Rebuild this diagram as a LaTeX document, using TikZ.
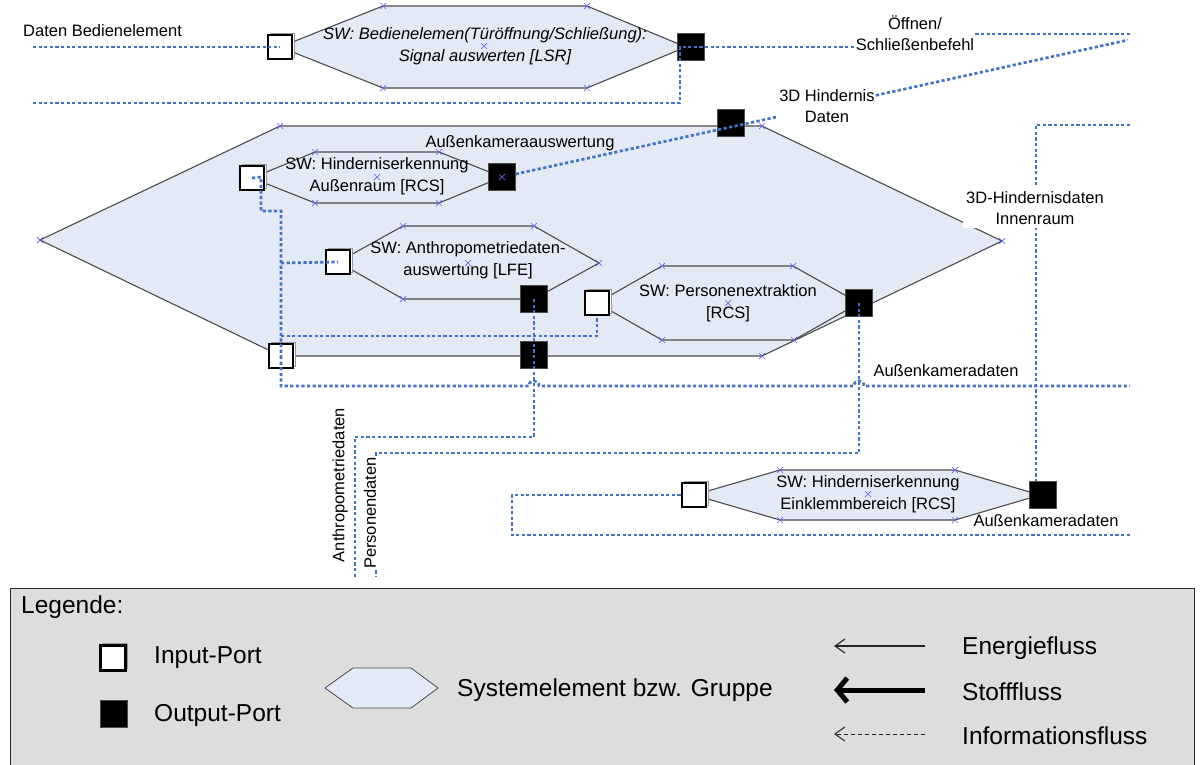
\documentclass[tikz,border=0pt]{standalone}
\usepackage{fontspec}
\setmainfont{Liberation Sans}
\usetikzlibrary{arrows.meta,shadows}
\definecolor{infoblue}{RGB}{68,114,196}
\definecolor{hexfill}{RGB}{227,234,246}
\definecolor{hexline}{RGB}{75,75,75}
\definecolor{legendgray}{RGB}{221,221,221}
\definecolor{vtxblue}{RGB}{100,100,240}

\begin{document}
\begin{tikzpicture}[x=1pt,y=-1pt,
  txt/.style={font=\fontsize{16.5}{21.5}\selectfont, align=center, inner sep=1pt},
  legtxt/.style={font=\fontsize{24.5}{28}\selectfont, inner sep=1pt},
  hexa/.style={draw=hexline, fill=hexfill, line width=1.1pt, line join=miter},
  info/.style={draw=infoblue, line width=2.7pt, dash pattern=on 3.2pt off 2.4pt},
  vtx/.style={draw=vtxblue, line width=0.7pt},
  inport/.style={draw=black, fill=white, line width=2.8pt, minimum size=24pt, inner sep=0pt,
    copy shadow={shadow xshift=2pt, shadow yshift=2pt, draw=gray!80, fill=white, line width=1pt}},
  outport/.style={draw=gray!60!black, fill=black, line width=0.5pt, minimum size=27pt, inner sep=0pt},
  energy/.style={draw=black!85, line width=1.1pt, -{Straight Barb[length=10pt,width=14pt]}},
  stoff/.style={draw=black, line width=5pt, -{Straight Barb[length=10pt,width=24pt]}},
  infoleg/.style={draw=black!85, line width=1pt, dash pattern=on 4pt off 3pt, -{Straight Barb[length=10pt,width=14pt]}}
]
\useasboundingbox (0,0) rectangle (1204,764);

% group hexagon and system elements
\draw[hexa] (40,240) -- (280,126) -- (762,126) -- (1002,241) -- (762,356) -- (281,356) -- cycle;
\draw[hexa] (280,47) -- (383,6) -- (587,6) -- (686,47) -- (587,88) -- (383,88) -- cycle;
\draw[hexa] (252,178) -- (315,152) -- (439,152) -- (502,177) -- (439,203) -- (315,203) -- cycle;
\draw[hexa] (338,262) -- (403,226) -- (534,226) -- (599,263) -- (534,299) -- (403,299) -- cycle;
\draw[hexa] (597,303) -- (662,266) -- (793,266) -- (859,303) -- (794,340) -- (662,340) -- cycle;
\draw[hexa] (694,495) -- (780,470) -- (955,470) -- (1040,495) -- (955,520) -- (780,520) -- cycle;

% element texts
\node[txt, font=\fontsize{16.5}{21.5}\selectfont\itshape] (tLSR) at (485,46)
  {SW: Bedienelemen(Türöffnung/Schließung):\\{}Signal auswerten [LSR]};
\node[txt] (tBig) at (520,143) {Außenkameraauswertung};
\node[txt] (tH1) at (377,176) {SW: Hinderniserkennung\\{}Außenraum [RCS]};
\node[txt] (tH2) at (468,260) {SW: Anthropometriedaten-\\{}auswertung [LFE]};
\node[txt] (tH3) at (728,303) {SW: Personenextraktion\\{}[RCS]};
\node[txt] (tH4) at (868,494) {SW: Hinderniserkennung\\{}Einklemmbereich [RCS]};

% ports
\node[inport] (pLSRin) at (280,47) {};
\node[outport] (pLSRout) at (691,47) {};
\node[inport] (p1in) at (252,178) {};
\node[outport] (p1out) at (502,177) {};
\node[inport] (p2in) at (338,262) {};
\node[outport] (p2out) at (534,299) {};
\node[inport] (p3in) at (597,303) {};
\node[outport] (p3out) at (859,303) {};
\node[inport] (p4in) at (694,495) {};
\node[outport] (p4out) at (1043,495) {};
\node[inport] (pGin) at (281,356) {};
\node[outport] (pGout) at (534,355) {};
\node[outport] (pGtop) at (731,123) {};

% vertex markers
\foreach \xx/\yy in {383/6,587/6,383/88,587/88,484/46,
                     40/240,280/126,762/126,1002/241,762/356,
                     315/152,439/152,315/203,439/203,377/177,502/177,
                     403/226,534/226,599/263,403/299,468/263,
                     662/266,793/266,662/340,794/340,728/303,
                     780/470,955/470,780/520,955/520,868/494}
  \draw[vtx] (\xx,\yy) ++(-3,-3) -- ++(6,6) ++(-6,0) -- ++(6,-6);

% flow labels
\node[txt, anchor=west] (lblDaten) at (22,31) {Daten Bedienelement};
\node[txt] (lblOeff) at (915,33) {Öffnen/\\{}Schließenbefehl};
\node[txt] (lbl3D) at (827,106) {3D Hindernis\\{}Daten};
\node[txt] (lblAKD1) at (946,371) {Außenkameradaten};
\node[txt] (lblAKD2) at (1046,521) {Außenkameradaten};
\node[txt, rotate=90] (lblAnthro) at (340,485) {Anthropometriedaten};

% information flows
\coordinate (cDatenL) at (33,47);
\draw[info] (cDatenL) -- (pLSRin.center);
\coordinate (cFbL) at (33,103);
\draw[info] (cFbL) -- (680,103) -- (680,47) -- (lblOeff.west |- pLSRout);
\coordinate (cOeffR) at (1130,34);
\draw[info] (lblOeff.east |- cOeffR) -- (cOeffR);
\coordinate (c3DR) at (1128,40);
\draw[info] (p1out) -- (lbl3D) -- (c3DR);
\draw[info] (p1in.center) -- (261,177) -- (261,211) -- (281,211) -- (pGin.center);
\draw[info] (281,263) -- (p2in.center);
\draw[info] (281,336) -- (597,336) -- (p3in.south);
\coordinate (cAKR) at (1130,386);
\draw[info] (pGin.center) -- (281,386) -- (529,386)
  .. controls (529,379) and (539,379) .. (539,386) -- (854,386)
  .. controls (854,379) and (864,379) .. (864,386) -- (cAKR);
\coordinate (cAnthroEnd) at (355,577);
\draw[info] (p2out.center) -- (534,437) -- (355,437) -- (cAnthroEnd);
\coordinate (cPersEnd) at (376,577);
\draw[info] (p3out.center) -- (859,453) -- (376,453) -- (cPersEnd);
\coordinate (cInnenR) at (1130,125);
\draw[info] (cInnenR) -- (1036,125) -- ([xshift=-7pt]p4out.north);
\coordinate (cEinR) at (1130,535);
\draw[info] (p4in.west) -- (512,495) -- (512,535) -- (cEinR);

% labels laid over the flows
\node[txt, fill=white, inner sep=3pt] (lbl3DI) at (1035,208) {3D-Hindernisdaten\\{}Innenraum};
\node[txt, rotate=90, fill=white, inner sep=0.5pt] (lblPers) at (370,513) {Personendaten};

% legend
\node[draw=black!85, fill=legendgray, line width=0.8pt, anchor=north west,
      minimum width=1184pt, minimum height=182pt, inner sep=0pt] (legend) at (10,588) {};
\node[legtxt, anchor=west] (tLeg) at (20,607) {Legende:};
\node[inport, minimum size=25pt, line width=2.4pt] (lIn) at (113,658) {};
\node[legtxt, anchor=west] (tIn) at (153,658) {Input-Port};
\node[outport] (lOut) at (114,714) {};
\node[legtxt, anchor=west] (tOut) at (153,715) {Output-Port};
\draw[hexa, line width=0.8pt] (325,688) -- (353,668) -- (411,668) -- (438,688) -- (411,708) -- (353,708) -- cycle;
\node[legtxt, anchor=west] (tSys) at (456,690) {Systemelement bzw. Gruppe};
\coordinate (aE1) at (925,646); \coordinate (aE2) at (834,646);
\coordinate (aS1) at (925,690); \coordinate (aS2) at (834,690);
\coordinate (aI1) at (925,734); \coordinate (aI2) at (834,734);
\draw[energy] (aE1) -- (aE2);
\draw[stoff] (aS1) -- (aS2);
\draw[infoleg] (aI1) -- (aI2);
\node[legtxt, anchor=west] (tE) at (961,648) {Energiefluss};
\node[legtxt, anchor=west] (tS) at (961,692) {Stofffluss};
\node[legtxt, anchor=west] (tI) at (961,736) {Informationsfluss};
\end{tikzpicture}
\end{document}
